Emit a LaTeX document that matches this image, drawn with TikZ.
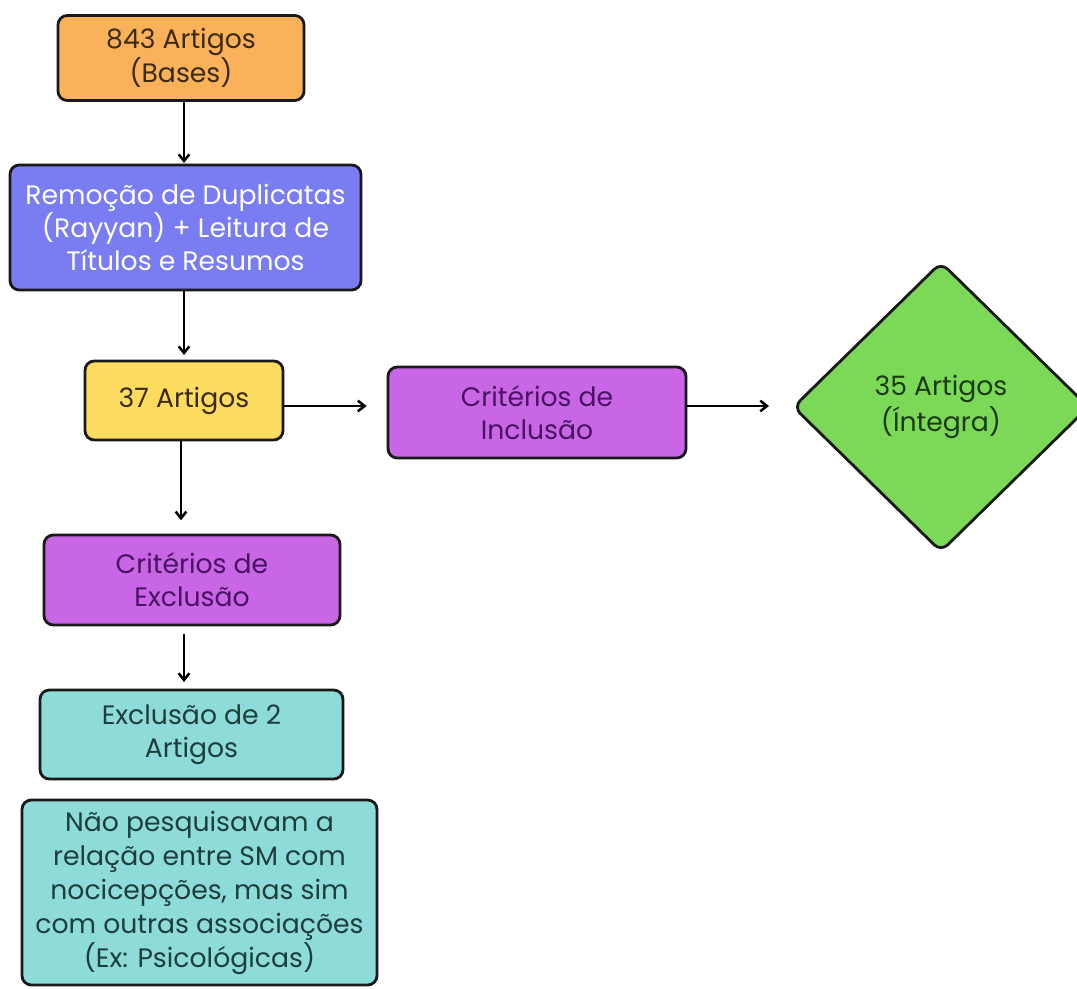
\documentclass[tikz,border=0pt]{standalone}
\usepackage{fontspec}
\setmainfont{Poppins}
\usetikzlibrary{arrows.meta,shapes.geometric}
\definecolor{cOrange}{HTML}{FAB25A}
\definecolor{cBlue}{HTML}{7A7CF2}
\definecolor{cYellow}{HTML}{FCDC5F}
\definecolor{cPurple}{HTML}{C866E6}
\definecolor{cGreen}{HTML}{7BD957}
\definecolor{cTeal}{HTML}{8EDCDA}
\definecolor{tOrange}{HTML}{3A2A12}
\definecolor{tPurple}{HTML}{4A1262}
\definecolor{tTeal}{HTML}{1E3E3E}
\definecolor{tGreen}{HTML}{1C3A12}
\tikzset{
  box/.style={draw=black!90, line width=2.1pt, rounded corners=7pt, align=center,
    inner sep=0pt, font=\fontsize{20}{25}\selectfont},
  arr/.style={line width=1.9pt, -{Straight Barb[length=5pt,width=8pt,line width=1.9pt]}},
}
\begin{document}
\begin{tikzpicture}[x=0.75pt,y=-0.75pt]
\useasboundingbox (0,0) rectangle (1077,988);
\fill[white] (0,0) rectangle (1077,988);
\node[box, fill=cOrange, text=tOrange, minimum width=246*0.75pt, minimum height=85*0.75pt] (b1) at (181,58) {843 Artigos\\(Bases)};
\node[box, fill=cBlue, text=white, minimum width=351*0.75pt, minimum height=125*0.75pt] (b2) at (185.5,227.5) {Remoção de Duplicatas\\(Rayyan) + Leitura de\\Títulos e Resumos};
\node[box, fill=cYellow, text=tOrange, minimum width=198*0.75pt, minimum height=79*0.75pt] (b3) at (184,400.5) {37 Artigos};
\node[box, fill=cPurple, text=tPurple, minimum width=298*0.75pt, minimum height=91*0.75pt] (b4) at (537,412.5) {Critérios de\\Inclusão};
\node[draw=black!90, line width=2.1pt, diamond, rounded corners=7pt, fill=cGreen, text=tGreen, align=center,
  inner sep=0pt, minimum width=296*0.75pt, minimum height=290*0.75pt, font=\fontsize{20}{27}\selectfont] (d) at (941,407) {35 Artigos\\(Íntegra)};
\node[box, fill=cPurple, text=tPurple, minimum width=296*0.75pt, minimum height=90*0.75pt] (b5) at (192,580) {Critérios de\\Exclusão};
\node[box, fill=cTeal, text=tTeal, minimum width=303*0.75pt, minimum height=89*0.75pt] (b6) at (191.5,734.5) {Exclusão de 2\\Artigos};
\node[box, fill=cTeal, text=tTeal, minimum width=355*0.75pt, minimum height=185*0.75pt, font=\fontsize{20}{25.5}\selectfont] (b7) at (199.5,892.5) {Não pesquisavam a\\relação entre SM com\\nocicepções, mas sim\\com outras associações\\(Ex: Psicológicas)};
\draw[arr] (b1.south -| 184,0) -- (184,163);
\draw[arr] (b2.south -| 184,0) -- (184,355);
\draw[arr] (b3.south -| 181,0) -- ([yshift=10pt]b5.north -| 181,0);
\draw[arr] (b3.east |- 0,406) -- ([xshift=-15pt]b4.west |- 0,406);
\draw[arr] (b4.east |- 0,406) -- ([xshift=-17pt]d.west |- 0,406);
\draw[arr] ([yshift=-6pt]b5.south -| 184,0) -- ([yshift=5pt]b6.north -| 184,0);
\end{tikzpicture}
\end{document}
